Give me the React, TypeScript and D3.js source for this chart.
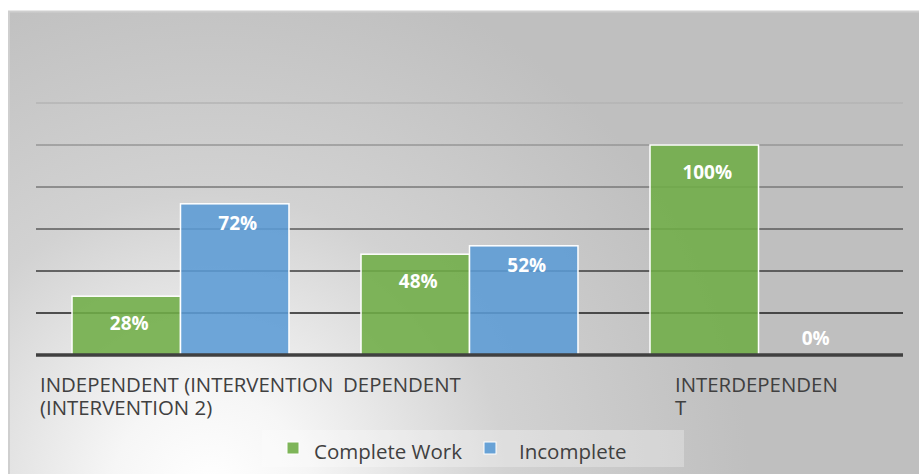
import React from "react";
import * as d3 from "d3";

const categories = ["independent", "dependent", "interdependent"];
const categoryLines = [
  ["INDEPENDENT (INTERVENTION", "(INTERVENTION 2)"],
  ["DEPENDENT"],
  ["INTERDEPENDEN", "T"],
];
const seriesNames = ["Complete Work", "Incomplete"];
const completeWork = [0.28, 0.48, 1.0];
const incomplete = [0.72, 0.52, 0.0];
const gridTicks = [0.2, 0.4, 0.6, 0.8, 1.0, 1.2];

const seriesColors = ["#70AD47", "#5B9BD5"];
const labelOffsets = [34, 26];
const catLabelShift = [4, 18, 61];

export default function App() {
  const width = 919;
  const height = 474;
  const left = 36;
  const right = 903;
  const base = 355;
  const top = 103;

  const x0 = d3.scaleBand<string>().domain(categories).range([left, right]).padding(0);
  const x1 = d3
    .scaleBand<string>()
    .domain(seriesNames)
    .range([0, x0.bandwidth()])
    .paddingInner(0)
    .paddingOuter(0.332);
  const y = d3.scaleLinear().domain([0, 1.2]).range([base, top]);

  const values = [completeWork, incomplete];
  const font = "'Open Sans', 'DejaVu Sans', sans-serif";

  return (
    <svg
      width={width}
      height={height}
      style={{ position: "absolute", left: 0, top: 0 }}
    >
      <defs>
        <radialGradient id="bg" gradientUnits="userSpaceOnUse" cx="210" cy="490" r="540">
          <stop offset="0" stopColor="#ffffff" />
          <stop offset="0.18" stopColor="#f6f6f6" />
          <stop offset="0.55" stopColor="#d2d2d2" />
          <stop offset="1" stopColor="#bfbfbf" />
        </radialGradient>
        <linearGradient id="grid" gradientUnits="userSpaceOnUse" x1="0" y1={base} x2="0" y2={top}>
          <stop offset="0" stopColor="#000000" />
          <stop offset="1" stopColor="#b4b4b4" />
        </linearGradient>
      </defs>
      <rect x={0} y={0} width={width} height={height} fill="#ffffff" />
      <rect x={9} y={11.5} width={920} height={470} fill="url(#bg)" stroke="#cfcfcf" strokeWidth={2} />

      {gridTicks.map((t) => (
        <line
          key={t}
          x1={left}
          x2={right}
          y1={y(t)}
          y2={y(t)}
          stroke="url(#grid)"
          strokeWidth={1.6}
        />
      ))}

      {categories.map((c, i) =>
        seriesNames.map((s, j) => {
          const v = values[j][i];
          if (v <= 0) return null;
          const bx = (x0(c) as number) + (x1(s) as number);
          return (
            <rect
              key={c + s}
              x={bx}
              y={y(v)}
              width={x1.bandwidth()}
              height={base - y(v)}
              fill={seriesColors[j]}
              fillOpacity={0.88}
              stroke="#ffffff"
              strokeWidth={1.5}
            />
          );
        })
      )}

      <line x1={left} x2={right} y1={base} y2={base} stroke="#404040" strokeWidth={3.5} />

      {categories.map((c, i) =>
        seriesNames.map((s, j) => {
          const v = values[j][i];
          const cx = (x0(c) as number) + (x1(s) as number) + x1.bandwidth() / 2 + 3;
          const ty = v > 0 ? y(v) + labelOffsets[j] : base - 10;
          return (
            <text
              key={"l" + c + s}
              x={cx}
              y={ty}
              textAnchor="middle"
              fill="#ffffff"
              fontFamily={font}
              fontWeight="bold"
              fontSize={19}
            >
              {d3.format(".0%")(v)}
            </text>
          );
        })
      )}

      {categories.map((c, i) => (
        <text
          key={"c" + c}
          x={(x0(c) as number) + catLabelShift[i]}
          y={392}
          fill="#404040"
          fontFamily={font}
          fontSize={20.4}
        >
          {categoryLines[i].map((ln, k) => (
            <tspan key={k} x={(x0(c) as number) + catLabelShift[i]} dy={k === 0 ? 0 : 23}>
              {ln}
            </tspan>
          ))}
        </text>
      ))}

      <g>
        <rect x={262} y={430} width={422} height={37} fill="#ffffff" fillOpacity={0.28} />
        {seriesNames.map((s, j) => {
          const lx = j === 0 ? 287 : 484;
          const tx = j === 0 ? 314 : 519;
          return (
            <g key={"lg" + s}>
              <rect x={lx} y={442} width={12} height={12} fill={seriesColors[j]} fillOpacity={0.9} stroke="#ffffff" strokeWidth={1} />
              <text x={tx} y={459} fill="#404040" fontFamily={font} fontSize={20.5}>
                {s}
              </text>
            </g>
          );
        })}
      </g>
    </svg>
  );
}
